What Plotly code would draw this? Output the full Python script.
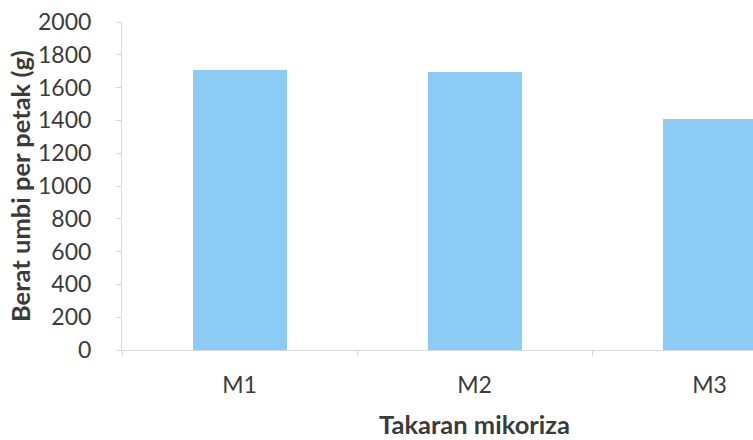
import plotly.graph_objects as go

# Tuber weight per plot for each mycorrhiza dose
categories = ["M1", "M2", "M3"]
weights = [1710, 1695, 1410]
y_ticks = [0, 200, 400, 600, 800, 1000, 1200, 1400, 1600, 1800, 2000]

W, H = 753, 440
ML, MR, MT, MB = 122, 0, 22, 90
plot_w = W - ML - MR
cat_w = 235  # pixel width of one category slot

fig = go.Figure(
    go.Bar(
        x=categories,
        y=weights,
        width=0.4,
        marker=dict(color="#8ccbf6", line=dict(width=0)),
    )
)

text_color = "#3b3b3b"
font_family = "Lato, 'Open Sans', sans-serif"

fig.update_layout(
    width=W,
    height=H,
    margin=dict(l=ML, r=MR, t=MT, b=MB),
    paper_bgcolor="white",
    plot_bgcolor="white",
    showlegend=False,
    font=dict(family=font_family, size=23, color=text_color),
    bargap=0,
)

fig.update_xaxes(
    type="category",
    range=[-0.5, plot_w / cat_w - 0.5],
    showgrid=False,
    showline=True,
    linecolor="#d9d9d9",
    linewidth=1,
    ticks="outside",
    tickson="boundaries",
    ticklen=5,
    tickcolor="#d4d4d4",
    ticklabelstandoff=14,
    tickfont=dict(size=23, color=text_color),
    zeroline=False,
)

fig.update_yaxes(
    range=[0, 2000],
    tickvals=y_ticks,
    showgrid=False,
    showline=True,
    linecolor="#d9d9d9",
    linewidth=1,
    ticks="outside",
    ticklen=5,
    tickcolor="#d4d4d4",
    ticklabelstandoff=20,
    tickfont=dict(size=23, color=text_color),
    zeroline=False,
)

# Axis titles
fig.add_annotation(
    text="<b>Takaran mikoriza</b>",
    xref="x", yref="paper",
    x=1, y=(350 - 424) / (H - MT - MB),
    xanchor="center", yanchor="middle",
    showarrow=False,
    font=dict(family=font_family, size=25.5, color=text_color),
)
fig.add_annotation(
    text="<b>Berat umbi per petak (g)</b>",
    xref="paper", yref="paper",
    x=(20 - ML) / plot_w, y=0.5,
    xanchor="center", yanchor="middle",
    textangle=-90,
    showarrow=False,
    font=dict(family=font_family, size=25.5, color=text_color),
)

fig.write_html("out.html")
